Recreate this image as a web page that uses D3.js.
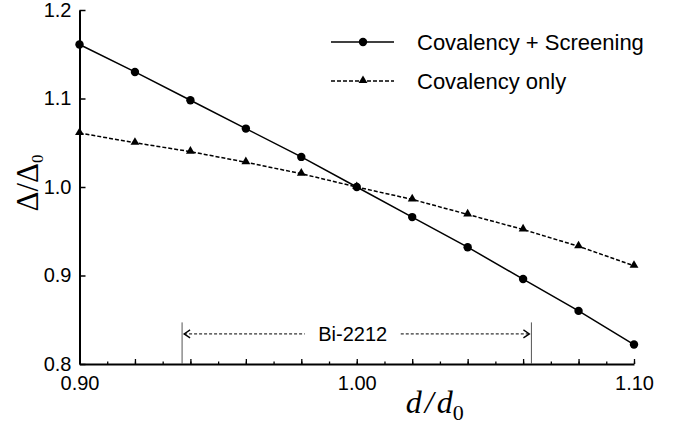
<!DOCTYPE html>
<html>
<head>
<meta charset="utf-8">
<script src="https://cdn.jsdelivr.net/npm/d3@7"></script>
<style>
  body { margin: 0; background: #fff; }
  text { font-family: Arial, "Liberation Sans", sans-serif; fill: #000; }
</style>
</head>
<body>
<div id="chart"></div>
<script>
// data
var dRatio = [0.90, 0.92, 0.94, 0.96, 0.98, 1.00, 1.02, 1.04, 1.06, 1.08, 1.10];
var covScreening = [1.161, 1.130, 1.098, 1.066, 1.034, 1.000, 0.966, 0.932, 0.896, 0.860, 0.822];
var covOnly = [1.061, 1.050, 1.040, 1.028, 1.015, 1.000, 0.986, 0.969, 0.952, 0.933, 0.911];
var xTickLabels = [0.90, 1.00, 1.10];
var yTicks = [0.8, 0.9, 1.0, 1.1, 1.2];
var seriesNames = ["Covalency + Screening", "Covalency only"];
var bi2212 = [0.937, 1.063];

// dimensions
var W = 683, H = 426;
var margin = { top: 10, right: 49, bottom: 62, left: 79.5 },
    width = W - margin.left - margin.right,
    height = H - margin.top - margin.bottom;

var svg = d3.select("#chart").append("svg")
    .attr("width", W)
    .attr("height", H)
  .append("g")
    .attr("transform", "translate(" + margin.left + "," + margin.top + ")");

var x = d3.scaleLinear().domain([0.9, 1.1]).range([0, width]);
var y = d3.scaleLinear().domain([0.8, 1.2]).range([height, 0]);

// x axis: minor ticks every 0.01, major every 0.02, labels at 0.90/1.00/1.10
var minorTicks = d3.range(0, 21).map(function (i) { return 0.9 + i * 0.01; });
var majorTicks = d3.range(0, 11).map(function (i) { return 0.9 + i * 0.02; });

svg.append("g")
    .attr("transform", "translate(0," + height + ")")
    .call(d3.axisBottom(x).tickValues(minorTicks).tickSizeInner(-2.5).tickSizeOuter(0).tickFormat(""))
    .call(function (g) { g.select(".domain").remove(); })
    .selectAll("line").attr("stroke-width", 1.3);

var xAxis = svg.append("g")
    .attr("transform", "translate(0," + height + ")")
    .call(d3.axisBottom(x).tickValues(majorTicks).tickSizeInner(-5).tickSizeOuter(0).tickPadding(12)
        .tickFormat(function (d) {
            var hit = xTickLabels.some(function (v) { return Math.abs(v - d) < 1e-6; });
            return hit ? d3.format(".2f")(d) : "";
        }));
xAxis.select(".domain").attr("stroke-width", 2);
xAxis.selectAll("line").attr("stroke-width", 1.3);
xAxis.selectAll("text").style("font-size", "20px").attr("fill", "#000");

// y axis, ticks inward
var yAxis = svg.append("g")
    .call(d3.axisLeft(y).tickValues(yTicks).tickSizeInner(-6).tickSizeOuter(0).tickPadding(8)
        .tickFormat(d3.format(".1f")));
yAxis.select(".domain").attr("stroke-width", 2);
yAxis.selectAll("line").attr("stroke-width", 1.5);
yAxis.selectAll("text").style("font-size", "20px").attr("fill", "#000");

// lines
var line = d3.line()
    .x(function (d, i) { return x(dRatio[i]); })
    .y(function (d) { return y(d); });

svg.append("path")
    .datum(covOnly)
    .attr("fill", "none")
    .attr("stroke", "#000")
    .attr("stroke-width", 1.5)
    .attr("stroke-dasharray", "4,2")
    .attr("d", line);

svg.append("path")
    .datum(covScreening)
    .attr("fill", "none")
    .attr("stroke", "#000")
    .attr("stroke-width", 1.5)
    .attr("d", line);

var tri = d3.symbol().type(d3.symbolTriangle).size(34);

svg.selectAll(".tri")
    .data(covOnly)
  .enter().append("path")
    .attr("class", "tri")
    .attr("d", tri)
    .attr("transform", function (d, i) { return "translate(" + x(dRatio[i]) + "," + (y(d) - 0.5) + ")"; })
    .attr("fill", "#000");

svg.selectAll(".dot")
    .data(covScreening)
  .enter().append("circle")
    .attr("class", "dot")
    .attr("cx", function (d, i) { return x(dRatio[i]); })
    .attr("cy", function (d) { return y(d); })
    .attr("r", 4.2)
    .attr("fill", "#000");

// Bi-2212 range bracket
var bracketTop = 0.847, arrowY = 0.834;
bi2212.forEach(function (v) {
    svg.append("line")
        .attr("x1", x(v)).attr("x2", x(v))
        .attr("y1", y(bracketTop)).attr("y2", y(0.8))
        .attr("stroke", "#555")
        .attr("stroke-width", 1);
});

var midX = x(1.0);
var ay = y(arrowY);
svg.append("line")
    .attr("x1", x(bi2212[0]) + 2).attr("x2", midX - 52)
    .attr("y1", ay).attr("y2", ay)
    .attr("stroke", "#000").attr("stroke-width", 1).attr("stroke-dasharray", "3,2");
svg.append("line")
    .attr("x1", midX + 44).attr("x2", x(bi2212[1]) - 2)
    .attr("y1", ay).attr("y2", ay)
    .attr("stroke", "#000").attr("stroke-width", 1).attr("stroke-dasharray", "3,2");
// arrow heads
svg.append("path")
    .attr("d", "M" + (x(bi2212[0]) + 8) + "," + (ay - 4) + "L" + (x(bi2212[0]) + 2) + "," + ay + "L" + (x(bi2212[0]) + 8) + "," + (ay + 4))
    .attr("fill", "none").attr("stroke", "#000").attr("stroke-width", 1.3);
svg.append("path")
    .attr("d", "M" + (x(bi2212[1]) - 8) + "," + (ay - 4) + "L" + (x(bi2212[1]) - 2) + "," + ay + "L" + (x(bi2212[1]) - 8) + "," + (ay + 4))
    .attr("fill", "none").attr("stroke", "#000").attr("stroke-width", 1.3);
svg.append("text")
    .attr("x", midX - 4)
    .attr("y", ay)
    .attr("dy", "0.35em")
    .attr("text-anchor", "middle")
    .style("font-size", "20px")
    .text("Bi-2212");

// legend
var legend = svg.append("g")
    .attr("transform", "translate(" + (331 - margin.left) + "," + (42 - margin.top) + ")");

legend.append("line")
    .attr("x1", 0).attr("x2", 63).attr("y1", 0).attr("y2", 0)
    .attr("stroke", "#000").attr("stroke-width", 1.5);
legend.append("circle")
    .attr("cx", 32).attr("cy", 0).attr("r", 4.2).attr("fill", "#000");
legend.append("text")
    .attr("x", 86).attr("y", 0).attr("dy", "0.35em")
    .style("font-size", "22px")
    .text(seriesNames[0]);

legend.append("line")
    .attr("x1", 0).attr("x2", 63).attr("y1", 39).attr("y2", 39)
    .attr("stroke", "#000").attr("stroke-width", 1.5).attr("stroke-dasharray", "4,2");
legend.append("path")
    .attr("d", tri)
    .attr("transform", "translate(32,38.5)")
    .attr("fill", "#000");
legend.append("text")
    .attr("x", 86).attr("y", 39).attr("dy", "0.35em")
    .style("font-size", "22px")
    .text(seriesNames[1]);

// axis titles
var xt = svg.append("text")
    .attr("x", x(1.0) + 78)
    .attr("y", height + 49)
    .attr("text-anchor", "middle")
    .style("font-family", "'Liberation Serif', 'Times New Roman', serif")
    .style("font-style", "italic")
    .style("font-size", "32px");
xt.append("tspan").style("letter-spacing", "3px").text("d/");
xt.append("tspan").text("d");
xt.append("tspan").attr("dy", 7).style("font-size", "22px").style("font-style", "normal").text("0");

var yt = svg.append("text")
    .attr("transform", "translate(" + (38 - margin.left) + "," + (y(1.0) - 4) + ") rotate(-90)")
    .attr("text-anchor", "middle")
    .style("font-family", "'Liberation Serif', 'Times New Roman', serif")
    .style("font-size", "31px");
yt.append("tspan").text("Δ/Δ");
yt.append("tspan").attr("dy", 5).style("font-size", "17px").text("0");
</script>
</body>
</html>
